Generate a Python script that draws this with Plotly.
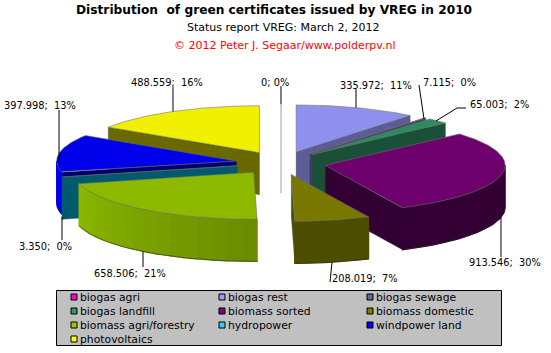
import math
import numpy as np
import plotly.graph_objects as go

# --- data ---
categories = ["biogas agri", "biogas rest", "biogas sewage", "biogas landfill", "biomass sorted",
              "biomass domestic", "biomass agri/forestry", "hydropower", "windpower land", "photovoltaics"]
values = [0, 335972, 7115, 65003, 913546, 208019, 658506, 3350, 397998, 488559]
title_text = "Distribution\u00a0\u00a0of green certificates issued by VREG in 2010"
subtitle_text = "Status report VREG: March 2, 2012"
credit_text = "\u00a9 2012 Peter J. Segaar/www.polderpv.nl"

# --- styles ---
legend_colors = ["#FF00CC", "#9999FF", "#666699", "#339966", "#800080", "#808000", "#99CC00", "#33CCFF", "#0000FF", "#FFFF00"]
top_colors = [(160, 160, 160), (144, 144, 238), (90, 90, 140), (45, 140, 95), (110, 0, 110), (120, 120, 0),
              (140, 185, 0), (0, 0, 110), (0, 0, 235), (240, 240, 0)]
wall_colors = [(160, 160, 160), (92, 92, 150), (60, 60, 100), (25, 80, 55), (50, 0, 50), (77, 77, 0),
               (140, 185, 0), (0, 90, 110), (0, 0, 235), (105, 105, 0)]
inner_colors = [(160, 160, 160), (92, 92, 150), (60, 60, 100), (25, 80, 55), (50, 0, 50), (77, 77, 0),
                (120, 150, 0), (0, 90, 110), (0, 0, 110), (105, 105, 0)]
label_anchor = [(275, 82), (376, 85), (449, 82), (499, 104), (505, 262), (365, 278), (130, 273), (45, 246), (40, 105), (167, 82)]
leader_end = [[(281, 86)], [(356, 89)], [(419, 85)], [(457, 108), (466, 108)], [(501, 257)],
              [(330, 282)], [(143, 267)], [(62, 240)], [(59, 110)], [(173, 87)]]
leader_start_x = [281, 356, 424, 436, 501, 332, 143, 62, 59, 173]
CX, CY, A, B, EXPLODE, DEPTH = 281, 163, 180, 47, 45, 42
FONT = "DejaVu Sans"

total = sum(values)
fracs = np.cumsum([0] + values) / total * 360.0
fig = go.Figure()


def rgb(c, f=1.0):
    return "rgb(%d,%d,%d)" % tuple(min(255, int(v * f)) for v in c)


def poly(px, py, fill, line="rgba(70,70,70,0.55)", width=0.6):
    fig.add_trace(go.Scatter(x=list(px) + [px[0]], y=list(py) + [py[0]], mode="lines", fill="toself",
                             fillcolor=fill, line=dict(color=line, width=width),
                             hoverinfo="skip", showlegend=False))


def ring(theta, ox, oy):
    t = np.radians(theta)
    return ox + A * np.sin(t), oy - B * np.cos(t)


slices = []
for i, (s, e) in enumerate(zip(fracs[:-1], fracs[1:])):
    mid = math.radians((s + e) / 2) if values[i] else 0.0
    ox = CX + EXPLODE * math.sin(mid)
    oy = CY - EXPLODE * B / A * math.cos(mid)
    slices.append((oy, i, s, e, ox))

# painter's order: back to front
for oy, i, s, e, ox in sorted(slices, key=lambda r: r[0]):
    if values[i] == 0:
        x0, y0 = ring(0.0, ox, oy)
        fig.add_trace(go.Scatter(x=[x0, ox, ox], y=[y0, oy, oy + DEPTH], mode="lines",
                                 line=dict(color="#a0a0a0", width=1), hoverinfo="skip", showlegend=False))
        continue
    # radial faces turned to the viewer
    for th, visible in ((s, math.sin(math.radians(s)) < 0), (e, math.sin(math.radians(e)) > 0)):
        if visible:
            px, py = ring(th, ox, oy)
            poly([ox, px, px, ox], [oy, py, py + DEPTH, oy + DEPTH], rgb(inner_colors[i]))
    # outer rim, front half only
    lo, hi = max(s, 90.0), min(e, 270.0)
    if hi > lo:
        steps = max(2, int((hi - lo) / 5) + 1) if i == 6 else 1
        edges = np.linspace(lo, hi, steps + 1)
        for a0, a1 in zip(edges[:-1], edges[1:]):
            shade = np.interp((a0 + a1) / 2, [178, 200, 256], [0.75, 0.82, 1.0]) if i == 6 else 1.0
            seg = np.linspace(a0, a1, 4 if i == 6 else 40)
            px, py = ring(seg, ox, oy)
            col = rgb(wall_colors[i], shade)
            poly(list(px) + list(px[::-1]), list(py) + list(py[::-1] + DEPTH), col, line=col, width=1.2)
        seg = np.linspace(lo, hi, 40)
        px, py = ring(seg, ox, oy)
        fig.add_trace(go.Scatter(x=px, y=py + DEPTH, mode="lines", line=dict(color="rgba(40,40,40,0.7)", width=0.8),
                                 hoverinfo="skip", showlegend=False))
    # top face
    seg = np.linspace(s, e, max(3, int(e - s) * 2))
    px, py = ring(seg, ox, oy)
    poly([ox] + list(px), [oy] + list(py), rgb(top_colors[i]), line="rgba(110,110,110,0.8)", width=0.7)

# leader lines
for oy, i, s, e, ox in slices:
    x_start = leader_start_x[i]
    pts = leader_end[i]
    mid = (s + e) / 2
    if i == 0:
        ys = oy - B
    elif i == 3:
        ys = 121
    elif i == 2:
        ys = 119
    elif i == 7:
        ys = oy + DEPTH + 9
    else:
        # point on the slice's rim at the leader's x, taken from the ellipse
        u = max(-1.0, min(1.0, (x_start - ox) / A))
        c = math.sqrt(1 - u * u)
        ys = oy - B * c if math.cos(math.radians(mid)) > 0 and i != 8 else oy + B * c + DEPTH
        if i == 8:
            ys = oy - B * c + 8
    xs = [x_start] + [p[0] for p in pts]
    yy = [ys] + [p[1] for p in pts]
    fig.add_trace(go.Scatter(x=xs, y=yy, mode="lines", line=dict(color="black", width=1),
                             hoverinfo="skip", showlegend=False))

# value labels
annotations = []
for i, v in enumerate(values):
    pct = round(v / total * 100)
    txt = f"{v // 1000}.{v % 1000:03d};\u00a0\u00a0{pct}%" if v else "0;\u00a00%"
    annotations.append(dict(x=label_anchor[i][0], y=label_anchor[i][1], text=txt, showarrow=False,
                            xref="x", yref="y", xanchor="center", yanchor="middle",
                            font=dict(family=FONT, size=9.8, color="black")))

# titles
annotations += [
    dict(x=273.5, y=10, text="<b>" + title_text + "</b>", showarrow=False, xref="x", yref="y",
         font=dict(family="DejaVu Sans", size=12.2, color="black")),
    dict(x=283, y=27, text=subtitle_text, showarrow=False, xref="x", yref="y",
         font=dict(family=FONT, size=11, color="black")),
    dict(x=284.5, y=45, text=credit_text, showarrow=False, xref="x", yref="y",
         font=dict(family=FONT, size=11, color="#FF0000")),
]

# legend panel
col_x = [74, 222, 370]
row_y = [297, 311, 325, 339]
shapes = [dict(type="rect", xref="x", yref="y", x0=56.5, x1=501.5, y0=290.5, y1=345.5,
               fillcolor="#C0C0C0", line=dict(color="black", width=1), layer="below")]
lx, ly = [], []
for i, name in enumerate(categories):
    cx, ry = col_x[i % 3], row_y[i // 3]
    lx.append(cx)
    ly.append(ry)
    annotations.append(dict(x=cx + 3.5, y=ry, text=name, showarrow=False, xref="x", yref="y", xanchor="left",
                            yanchor="middle", font=dict(family=FONT, size=10.8, color="black")))
fig.add_trace(go.Scatter(x=lx, y=ly, mode="markers", hoverinfo="skip", showlegend=False,
                         marker=dict(symbol="square", size=6, color=legend_colors, line=dict(color="black", width=1))))

fig.update_layout(width=551, height=353, margin=dict(l=0, r=0, t=0, b=0), paper_bgcolor="white", plot_bgcolor="white",
                  showlegend=False, annotations=annotations, shapes=shapes,
                  xaxis=dict(range=[0, 551], visible=False, fixedrange=True),
                  yaxis=dict(range=[353, 0], visible=False, fixedrange=True))
fig.write_html("out.html", config=dict(displayModeBar=False),
               post_script="document.body.style.margin='0';document.body.style.overflow='hidden';")
